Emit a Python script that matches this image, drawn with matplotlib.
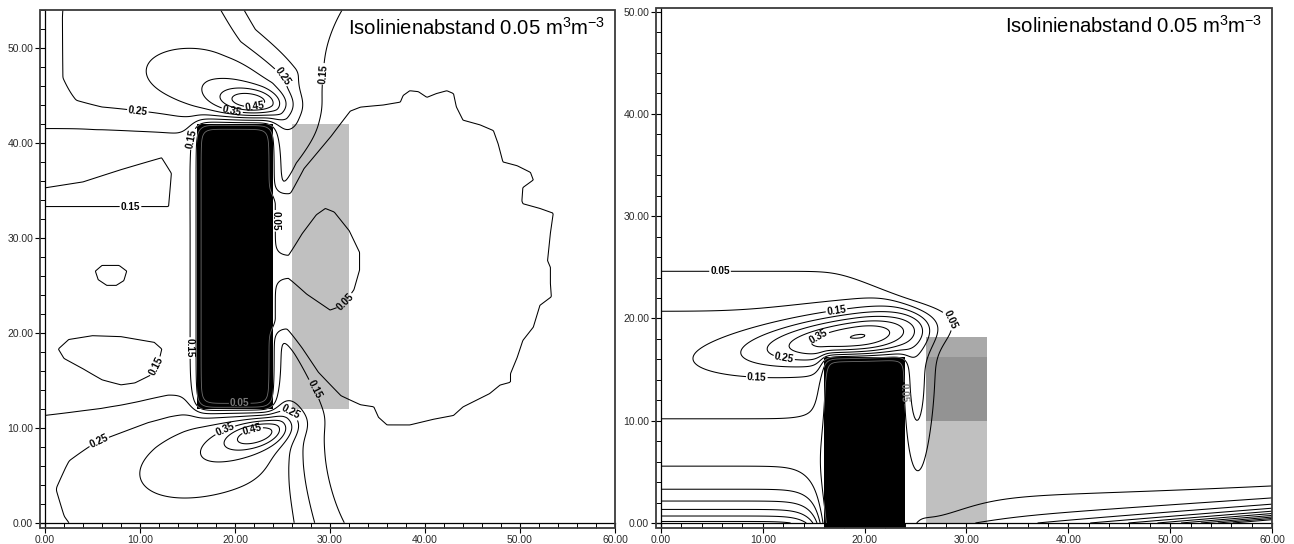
import numpy as np
import matplotlib
matplotlib.use("Agg")
import matplotlib.pyplot as plt
from matplotlib.path import Path
from matplotlib.patches import Rectangle
from matplotlib.ticker import MultipleLocator, FormatStrFormatter

plt.rcParams["font.family"] = ["Liberation Sans", "DejaVu Sans"]
plt.rcParams["mathtext.fontset"] = "custom"
plt.rcParams["mathtext.rm"] = "Liberation Sans"
plt.rcParams["mathtext.it"] = "Liberation Sans:italic"
plt.rcParams["mathtext.bf"] = "Liberation Sans:bold"

# ------------------------------------------------------------------ data
LEVELS = [0.05, 0.10, 0.15, 0.20, 0.25, 0.30, 0.35, 0.40, 0.45, 0.50]
LABEL_LEVELS = [0.05, 0.15, 0.25, 0.35, 0.45]
ISO_TEXT = "Isolinienabstand 0.05 $\\mathregular{m^{3}m^{-3}}$"

# panel a: dry block in mid profile, water content field (m3/m3)
a_extent = (60.0, 54.0)
a_block = (16.0, 12.0, 24.0, 42.0)          # x0, y0, x1, y1
a_grey = (26.0, 12.0, 32.0, 42.0)
a_background = (0.180, 0.125)               # west / east value
a_front = (27.5, 1.5, 3.5, 6.0)             # position, width, bend at top/bottom, bend depth
# x0, y0, amplitude, sigma along (-), sigma along (+), sigma across, angle
a_bumps = [
    (21.8, 44.3, 0.17, 2.4, 2.4, 1.0, -5),
    (19.0, 45.5, 0.07, 5.0, 4.0, 2.3, -15),
    (22.6, 9.4, 0.17, 2.5, 2.5, 1.0, 15),
    (19.0, 8.0, 0.07, 5.5, 4.5, 2.6, 20),
]
# additive zones: amplitude, edge width, outline
a_zones = [
    (0.055, 1.0, [(-3, 58), (-3, 42.0), (6.0, 42.3), (14.0, 42.3), (25.6, 42.4),
                  (25.6, 47.0), (21.0, 51.0), (17.0, 58.0)]),
    (0.050, 1.0, [(2.6, 58), (2.7, 47), (3.6, 44.8), (6.0, 43.8), (9.7, 43.3),
                  (14.0, 42.9), (25.0, 42.7), (25.6, 47.0), (21.0, 51.0),
                  (17.0, 58.0)]),
    (0.055, 1.0, [(-3, -4), (-3, 10.4), (6.0, 11.4), (13.0, 12.6), (25.6, 11.8),
                  (26.6, 6.0), (29.0, -4)]),
    (0.050, 1.0, [(6.0, -4), (2.8, 1.0), (2.0, 3.5), (3.2, 6.0), (5.8, 8.0),
                  (11.0, 10.1), (14.5, 10.8), (24.0, 11.2), (25.6, 11.2),
                  (26.0, 4.0), (26.5, -4)]),
    (-0.06, 0.5, [(-3, 33.3), (13.0, 33.3), (13.3, 36.8), (12.3, 38.5),
                  (8.0, 37.2), (4.0, 35.9), (-3, 34.8)]),
    (-0.06, 0.4, [(5.3, 26.5), (6.0, 27.1), (7.8, 27.1), (8.6, 26.5),
                  (8.3, 25.5), (7.5, 25.0), (6.5, 25.0), (5.6, 25.6)]),
    (-0.06, 0.5, [(1.4, 18.3), (2.5, 19.3), (5.0, 19.7), (8.0, 19.6),
                  (11.5, 19.0), (12.3, 18.3), (12.0, 17.0), (11.2, 15.5),
                  (9.5, 14.6), (8.0, 14.4), (6.0, 15.0), (4.0, 16.2),
                  (2.0, 17.3)]),
]
# replacing zones: level inside, edge width, outline
a_dry_zones = [
    (0.075, 0.4, [(32.1, 43.4), (33.2, 43.8), (35.6, 44.0), (37.4, 44.3),
                  (37.7, 45.0), (38.4, 45.5), (39.3, 45.4), (40.2, 44.8),
                  (41.2, 45.2), (42.3, 45.5), (43.0, 45.2), (43.3, 43.8),
                  (44.0, 42.4), (45.8, 41.9), (47.2, 41.3), (47.7, 39.9),
                  (48.2, 38.0), (49.7, 37.6), (51.1, 36.9), (51.4, 36.1),
                  (50.3, 35.3), (50.2, 33.9), (50.3, 33.6), (52.1, 33.1),
                  (53.5, 32.6), (53.2, 30.5), (52.9, 27.6), (53.2, 26.9),
                  (53.2, 25.2), (53.3, 23.8), (52.1, 22.9), (51.4, 20.6),
                  (50.3, 19.2), (49.7, 17.4), (49.0, 15.7), (49.0, 14.8),
                  (47.9, 14.5), (46.8, 13.6), (44.0, 12.2), (43.0, 11.3),
                  (40.9, 10.9), (38.4, 10.3), (36.0, 10.3), (35.1, 11.1),
                  (34.6, 12.2), (33.2, 12.4), (31.1, 13.3), (28.6, 15.7),
                  (26.8, 18.2), (25.3, 20.1), (23.0, 20.3), (23.0, 34.7),
                  (25.6, 35.0), (27.0, 37.5), (30.0, 40.8)]),
    (0.030, 0.4, [(23.0, 25.7), (25.6, 25.7), (27.5, 24.0), (30.0, 22.3),
                  (31.4, 22.8), (32.6, 24.5), (33.2, 26.6), (33.2, 28.5),
                  (32.1, 30.8), (30.5, 32.8), (29.5, 33.2), (28.5, 32.5),
                  (27.0, 30.5), (25.6, 28.2), (23.0, 28.2)]),
]
a_labels = [(9.7, 42.7), (25.3, 47.3), (29.0, 47.3), (19.7, 43.4), (22.1, 43.6),
            (15.0, 40.5), (9.0, 33.3), (24.4, 31.8), (31.4, 23.4), (11.8, 16.4),
            (14.2, 18.4), (18.9, 9.9), (21.8, 9.9), (6.1, 7.4), (26.3, 12.4),
            (27.4, 13.6)]
a_labels_block = [(20.5, 12.3)]

# panel b: dry block at the surface
b_extent = (60.0, 50.0)
b_block = (16.0, -5.0, 24.0, 16.2)
b_grey_x = (26.0, 32.0)
b_grey_y = [0.0, 10.0, 16.2, 18.2]
b_band = (0.13, 16.3, 6.5, 6.0, 26.5, 0.8)        # amp, centre, s below, s above, east end, width
b_band_taper = (20.5, 1.8)                         # height where east end recedes, rate
b_bumps = [
    (19.5, 18.3, 0.28, 7.0, 4.8, 1.54, 8),
    (25.2, 9.5, 0.035, 0.9, 0.9, 4.5, 0),
]
b_layer_west = (0.36, 3.3, 15.8, 1.0)              # amp, depth scale, east end, width
b_layer_east = (0.60, 12.0, 1.0, 24.6, 0.4)        # amp at x=60, x scale, depth scale, west end, width
b_film = (0.065, 4.5, 28.0, 3.0)                   # amp, depth scale, west end, width
b_labels = [(5.8, 24.6), (17.2, 21.0), (28.1, 19.7), (15.3, 18.7), (12.0, 15.6),
            (9.4, 14.0)]
b_labels_block = [(23.7, 12.7)]


# ------------------------------------------------------------------ field helpers
def sig(t):
    return 1.0 / (1.0 + np.exp(-t))


def bump(X, Y, x0, y0, amp, sa_lo, sa_hi, sb, ang):
    t = np.radians(ang)
    u = (X - x0) * np.cos(t) + (Y - y0) * np.sin(t)
    v = -(X - x0) * np.sin(t) + (Y - y0) * np.cos(t)
    sa = np.where(u < 0, sa_lo, sa_hi)
    return amp * np.exp(-0.5 * ((u / sa) ** 2 + (v / sb) ** 2))


def soft_polygon(X, Y, verts, w):
    pts = np.column_stack([X.ravel(), Y.ravel()])
    V = np.asarray(verts, float)
    inside = Path(V).contains_points(pts)
    d = np.full(len(pts), np.inf)
    for a, b in zip(V, np.roll(V, -1, axis=0)):
        ab = b - a
        t = np.clip(((pts - a) @ ab) / (ab @ ab), 0.0, 1.0)
        diff = pts - (a + t[:, None] * ab)
        d = np.minimum(d, np.hypot(diff[:, 0], diff[:, 1]))
    return sig(np.where(inside, d, -d) / w).reshape(X.shape)


def soft_box(X, Y, box, w):
    x0, y0, x1, y1 = box
    return sig((X - x0) / w) * sig((x1 - X) / w) * sig((Y - y0) / w) * sig((y1 - Y) / w)


def field_a():
    X, Y = np.meshgrid(np.linspace(0, a_extent[0], 481), np.linspace(0, a_extent[1], 433))
    west, east = a_background
    pos, width, bend, depth = a_front
    x_front = pos + bend * (np.exp(-Y / depth) + np.exp(-(a_extent[1] - Y) / depth))
    F = east + (west - east) * sig((x_front - X) / width)
    for p in a_bumps:
        F = F + bump(X, Y, *p)
    for amp, w, verts in a_zones:
        F = F + amp * soft_polygon(X, Y, verts, w)
    for val, w, verts in a_dry_zones:
        S = soft_polygon(X, Y, verts, w)
        F = F * (1 - S) + val * S
    D = soft_box(X, Y, a_block, 0.45)
    return X, Y, F * (1 - D)


def field_b():
    X, Y = np.meshgrid(np.linspace(0, b_extent[0], 481), np.linspace(0, b_extent[1], 401))
    amp, yc, s_lo, s_hi, x_end, w = b_band
    knee, rate = b_band_taper
    s = np.where(Y < yc, s_lo, s_hi)
    x_edge = x_end - rate * np.logaddexp(0.0, Y - knee)
    F = amp * np.exp(-0.5 * ((Y - yc) / s) ** 2) * sig((x_edge - X) / w)
    for p in b_bumps:
        F = F + bump(X, Y, *p)
    a, h, x_end, w = b_layer_west
    F = F + a * np.exp(-Y / h) * sig((x_end - X) / w)
    a, xs, h, x_start, w = b_layer_east
    F = F + a * np.exp((X - 60.0) / xs) * np.exp(-Y / h) * sig((X - x_start) / w)
    a, hf, x_start, w = b_film
    F = F + a * np.exp(-(Y / hf) ** 2) * sig((X - x_start) / w)
    D = soft_box(X, Y, b_block, 0.35)
    return X, Y, F * (1 - D)


# ------------------------------------------------------------------ drawing
def style_axes(ax, xmax, ymax, pad):
    ax.set_xlim(-pad, xmax)
    ax.set_ylim(-pad, ymax)
    for side in ("top", "right"):
        ax.spines[side].set_visible(False)
    for side in ("left", "bottom"):
        ax.spines[side].set_position(("data", 0))
        ax.spines[side].set_linewidth(0.9)
    ax.add_patch(Rectangle((0, 0), 1, 1, transform=ax.transAxes, fill=False,
                           lw=1.3, edgecolor="#3a3a3a", clip_on=False, zorder=10))
    for axis in (ax.xaxis, ax.yaxis):
        axis.set_major_locator(MultipleLocator(10))
        axis.set_minor_locator(MultipleLocator(2))
        axis.set_major_formatter(FormatStrFormatter("%.2f"))
    ax.tick_params(which="major", direction="out", length=7, width=0.8,
                   labelsize=7.5, pad=1.5, labelcolor="#2a2a2a")
    ax.tick_params(which="minor", direction="out", length=3.5, width=0.7)


def bold_labels(texts):
    for t in texts:
        t.set_fontweight("bold")
        t.set_zorder(6)


def draw_contours(ax, X, Y, F, block, labels, labels_block):
    plain = [lv for lv in LEVELS if lv not in LABEL_LEVELS]
    ax.contour(X, Y, F, levels=plain, colors="black", linewidths=0.75, zorder=2)
    cs_lab = ax.contour(X, Y, F, levels=LABEL_LEVELS, colors="black", linewidths=0.75, zorder=2)
    x0, y0, x1, y1 = block
    rect = Rectangle((x0, y0), x1 - x0, y1 - y0, facecolor="black", edgecolor="none", zorder=3)
    ax.add_patch(rect)
    cs_in = ax.contour(X, Y, F, levels=LEVELS[1:], colors="#6e6e6e", linewidths=0.6, zorder=4)
    cs_in.set_clip_path(rect)
    cs_in5 = ax.contour(X, Y, F, levels=LEVELS[:1], colors="#6e6e6e", linewidths=0.6, zorder=4)
    cs_in5.set_clip_path(rect)
    bold_labels(ax.clabel(cs_lab, manual=labels, fmt="%.2f",
                          fontsize=7.2, inline=True, inline_spacing=1))
    bold_labels(ax.clabel(cs_in5, manual=labels_block, fmt="%.2f", fontsize=7.2,
                          inline=True, inline_spacing=1, colors="#7a7a7a"))


def iso_note(ax):
    ax.annotate(ISO_TEXT, xy=(1, 1), xycoords="axes fraction", xytext=(-7, -5),
                textcoords="offset points", ha="right", va="top", fontsize=14.6, zorder=7)


fig = plt.figure(figsize=(12.94, 5.44), dpi=100)

axA = fig.add_axes([40.25 / 1294, (544 - 527.5) / 544, (615 - 40.25) / 1294, (527.5 - 10) / 544])
style_axes(axA, a_extent[0], a_extent[1], 0.5)
gx0, gy0, gx1, gy1 = a_grey
axA.add_patch(Rectangle((gx0, gy0), gx1 - gx0, gy1 - gy0, facecolor="#c0c0c0",
                        edgecolor="none", zorder=1))
XA, YA, FA = field_a()
draw_contours(axA, XA, YA, FA, a_block, a_labels, a_labels_block)
iso_note(axA)

axB = fig.add_axes([656.4 / 1294, (544 - 527.6) / 544, (1272 - 656.4) / 1294, (527.6 - 8.3) / 544])
style_axes(axB, b_extent[0], 50.33, 0.45)
grey_shades = ["#c0c0c0", "#939393", "#a9a9a9"]
for (ya, yb), col in zip(zip(b_grey_y[:-1], b_grey_y[1:]), grey_shades):
    axB.add_patch(Rectangle((b_grey_x[0], ya), b_grey_x[1] - b_grey_x[0], yb - ya,
                            facecolor=col, edgecolor="none", zorder=1))
XB, YB, FB = field_b()
draw_contours(axB, XB, YB, FB, b_block, b_labels, b_labels_block)
iso_note(axB)

fig.savefig("out.png", dpi=100)
